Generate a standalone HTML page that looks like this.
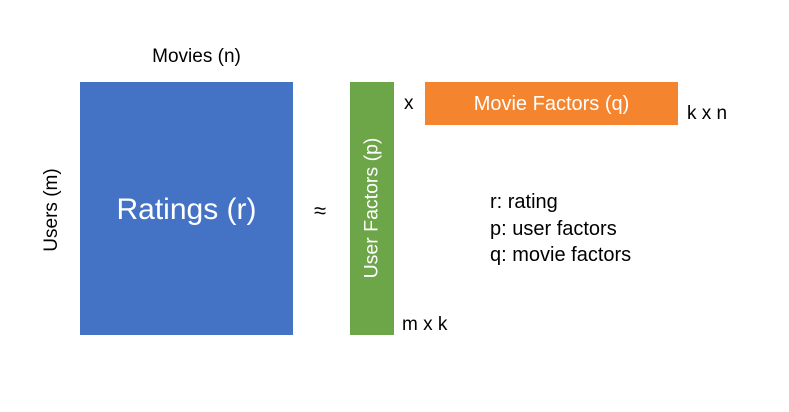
<!DOCTYPE html>
<html><head><style>
body{margin:0;width:789px;height:412px;background:#fff;position:relative;overflow:hidden;font-family:"Liberation Sans",sans-serif;}
.a{position:absolute;white-space:nowrap;}
</style></head><body>
<div class="a" style="left:80px;top:82px;width:213px;height:253px;background:#4472C4;"></div>
<div class="a" style="left:80px;top:193px;width:213px;text-align:center;color:#fff;font-size:30px;">Ratings (r)</div>
<div class="a" style="left:80px;top:46px;width:233px;text-align:center;font-size:19px;">Movies (n)</div>
<div class="a" style="left:52px;top:210px;transform:translate(-50%,-50%) rotate(-90deg);font-size:19px;">Users (m)</div>
<div class="a" style="left:314px;top:198px;font-size:22px;">≈</div>
<div class="a" style="left:350px;top:82px;width:44px;height:253px;background:#6DA648;"></div>
<div class="a" style="left:372px;top:208px;transform:translate(-50%,-50%) rotate(-90deg);font-size:19.5px;color:#fff;">User Factors (p)</div>
<div class="a" style="left:404px;top:93px;font-size:19px;">x</div>
<div class="a" style="left:425px;top:82px;width:253px;height:43px;background:#F5842F;"></div>
<div class="a" style="left:425px;top:93px;width:253px;text-align:center;color:#fff;font-size:20px;">Movie Factors (q)</div>
<div class="a" style="left:687px;top:103px;font-size:19px;">k x n</div>
<div class="a" style="left:402px;top:314px;font-size:19px;">m x k</div>
<div class="a" style="left:490px;top:189px;font-size:20px;line-height:26.5px;">r: rating<br>p: user factors<br>q: movie factors</div>
</body></html>
